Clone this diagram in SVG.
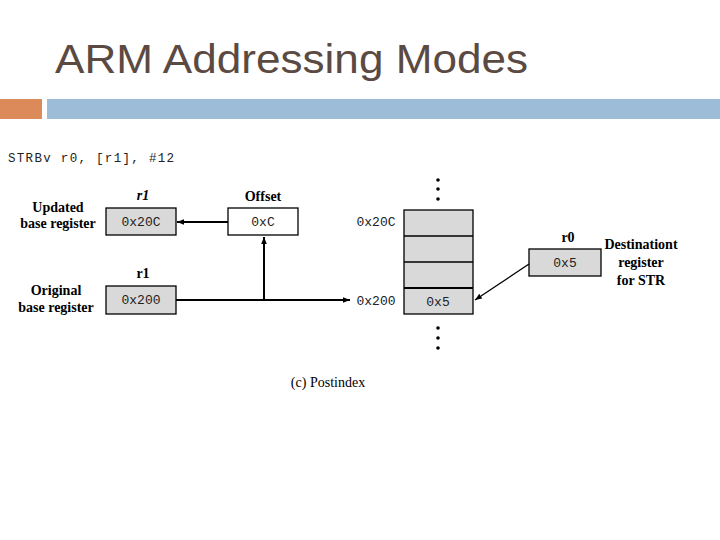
<svg xmlns="http://www.w3.org/2000/svg" width="720" height="540" viewBox="0 0 720 540">
<style>
.t{font-family:"Liberation Serif",serif;font-size:14px;font-weight:bold;fill:#000;text-anchor:middle}
.m{font-family:"Liberation Mono",monospace;font-size:13px;fill:#222;text-anchor:middle}
.g{fill:#d9d9d9;stroke:#000;stroke-width:1.3}
.w{fill:#fff;stroke:#000;stroke-width:1.3}
.l{stroke:#000;stroke-width:2;fill:none}
</style>
<defs><marker id="a" viewBox="0 0 10 10" refX="10" refY="5" markerWidth="7" markerHeight="7" markerUnits="userSpaceOnUse" orient="auto"><path d="M0,1L10,5L0,9z" fill="#000"/></marker></defs>
<rect width="720" height="540" fill="#fff"/>
<text x="55" y="73" font-family="Liberation Sans,sans-serif" font-size="41" fill="#5b4a42" textLength="473" lengthAdjust="spacingAndGlyphs">ARM Addressing Modes</text>
<rect x="0" y="99" width="42" height="20" fill="#dd8a5a"/>
<rect x="47" y="99" width="673" height="20" fill="#9dbcd8"/>
<text x="8" y="162" font-family="Liberation Mono,monospace" font-size="12.5" fill="#222" textLength="166">STRBv r0, [r1], #12</text>
<g id="updated"><text class="t" x="58" y="212">Updated</text><text class="t" x="58" y="228">base register</text>
<text class="t" x="143" y="200" font-style="italic" font-size="17">r1</text><rect class="g" x="106" y="208" width="70" height="27"/><text class="m" x="141" y="226">0x20C</text></g>
<g id="offset"><text class="t" x="263" y="201">Offset</text><rect class="w" x="228" y="208" width="70" height="27"/><text class="m" x="263" y="226">0xC</text></g>
<g id="original"><text class="t" x="56" y="295">Original</text><text class="t" x="56" y="312">base register</text>
<text class="t" x="143" y="278" font-size="17">r1</text><rect class="g" x="106" y="286" width="70" height="28"/><text class="m" x="141" y="304">0x200</text></g>
<g id="memory">
<g fill="#000"><circle cx="438" cy="180" r="1.8"/><circle cx="438" cy="189" r="1.8"/><circle cx="438" cy="199" r="1.8"/>
<circle cx="438" cy="328" r="1.8"/><circle cx="438" cy="338" r="1.8"/><circle cx="438" cy="348" r="1.8"/></g>
<rect class="g" x="404" y="210" width="69" height="104"/>
<path d="M404,236H473M404,262H473" stroke="#000" stroke-width="1.3"/>
<path d="M404,288H473" stroke="#000" stroke-width="2"/>
<text class="m" x="438" y="306">0x5</text>
<text class="m" x="376" y="226">0x20C</text><text class="m" x="376" y="305">0x200</text>
</g>
<g id="r0"><text class="t" x="568" y="242" font-size="17">r0</text><rect class="g" x="529" y="249" width="72" height="27"/><text class="m" x="565" y="267">0x5</text>
<text class="t" x="641" y="249">Destinationt</text><text class="t" x="641" y="267">register</text><text class="t" x="641" y="285">for STR</text></g>
<text x="328" y="387" font-family="Liberation Serif,serif" font-size="14" text-anchor="middle">(c) Postindex</text>
<g id="connectors">
<path class="l" d="M228,222H177" marker-end="url(#a)"/>
<path class="l" d="M176,300H350" marker-end="url(#a)"/>
<path class="l" d="M264,300V237" marker-end="url(#a)"/>
<path stroke="#000" stroke-width="1.3" d="M529,264L475,300" marker-end="url(#a)"/>
</g>
</svg>
